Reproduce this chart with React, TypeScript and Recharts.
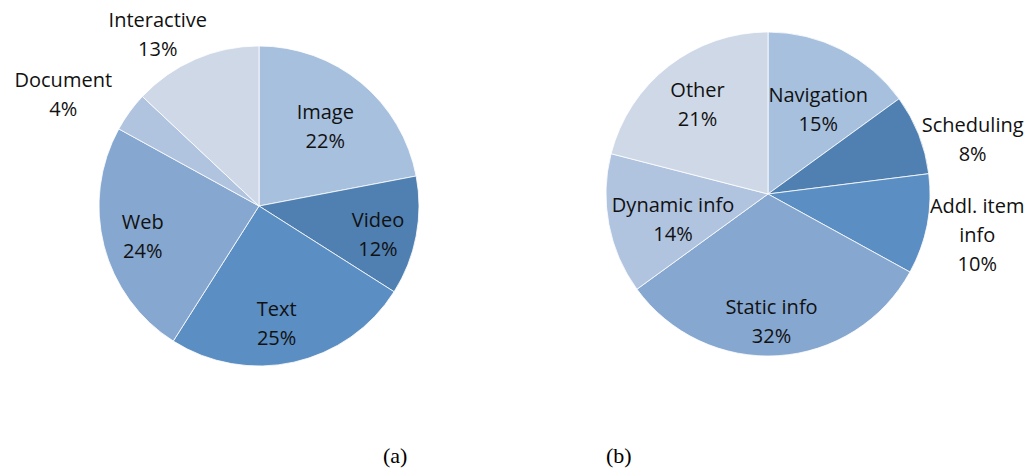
import { Cell, Pie, PieChart } from "recharts";

if (typeof document !== "undefined") document.body.style.margin = "0";

// chart (a): content types
const typeNames = ["Image", "Video", "Text", "Web", "Document", "Interactive"];
const typeShares = [22, 12, 25, 24, 4, 13];
// chart (b): information needs
const needNames = ["Navigation", "Scheduling", "Addl. item\ninfo", "Static info", "Dynamic info", "Other"];
const needShares = [15, 8, 10, 32, 14, 21];

const sliceColors = ["#a7c0de", "#4f80b1", "#5b8ec3", "#86a7d0", "#b0c3df", "#ced8e7"];

// label placement: distance from centre and clockwise angle nudge (deg)
const typeLabelRadius = [104, 122, 118, 120, 226, 200];
const typeLabelShift = [0, 2, 4, 0, -6, -7];
const needLabelRadius = [99, 212, 213, 127, 98, 115];
const needLabelShift = [3.5, 6.5, 0, 2, -3.5, 0];

const RAD = Math.PI / 180;

function makeRows(names: string[], shares: number[]) {
  return names.map((name, i) => ({ name, value: shares[i] }));
}

function makeLabel(radius: number[], shift: number[]) {
  return (props: any) => {
    const { cx, cy, midAngle, index, name, value } = props;
    const a = (midAngle - shift[index]) * RAD;
    const x = cx + radius[index] * Math.cos(a);
    const y = cy - radius[index] * Math.sin(a);
    const lines = [...String(name).split("\n"), `${value}%`];
    const lh = 29;
    const top = y - ((lines.length - 1) * lh) / 2;
    return (
      <text
        x={x}
        y={top}
        textAnchor="middle"
        dominantBaseline="central"
        fill="#111"
        fontSize={20}
        fontFamily="'Open Sans', sans-serif"
      >
        {lines.map((line, k) => (
          <tspan key={k} x={x} y={top + k * lh}>
            {line}
          </tspan>
        ))}
      </text>
    );
  };
}

const typeData = makeRows(typeNames, typeShares);
const needData = makeRows(needNames, needShares);

const captionStyle = {
  position: "absolute" as const,
  top: 443,
  fontFamily: "'Liberation Serif', serif",
  fontSize: 22,
  color: "#000",
};

export default function App() {
  return (
    <div style={{ position: "relative", width: 1032, height: 472, background: "#fff" }}>
      <PieChart width={1032} height={472} margin={{ top: 0, right: 0, bottom: 0, left: 0 }}>
        <Pie
          data={typeData}
          dataKey="value"
          nameKey="name"
          cx={259}
          cy={206}
          outerRadius={160}
          startAngle={90}
          endAngle={-270}
          stroke="#ffffff"
          strokeWidth={0.8}
          labelLine={false}
          label={makeLabel(typeLabelRadius, typeLabelShift)}
          isAnimationActive={false}
        >
          {typeData.map((d, i) => (
            <Cell key={d.name} fill={sliceColors[i]} />
          ))}
        </Pie>
        <Pie
          data={needData}
          dataKey="value"
          nameKey="name"
          cx={768}
          cy={194}
          outerRadius={162}
          startAngle={90}
          endAngle={-270}
          stroke="#ffffff"
          strokeWidth={0.8}
          labelLine={false}
          label={makeLabel(needLabelRadius, needLabelShift)}
          isAnimationActive={false}
        >
          {needData.map((d, i) => (
            <Cell key={d.name} fill={sliceColors[i]} />
          ))}
        </Pie>
      </PieChart>
      <span style={{ ...captionStyle, left: 383 }}>(a)</span>
      <span style={{ ...captionStyle, left: 606 }}>(b)</span>
    </div>
  );
}
